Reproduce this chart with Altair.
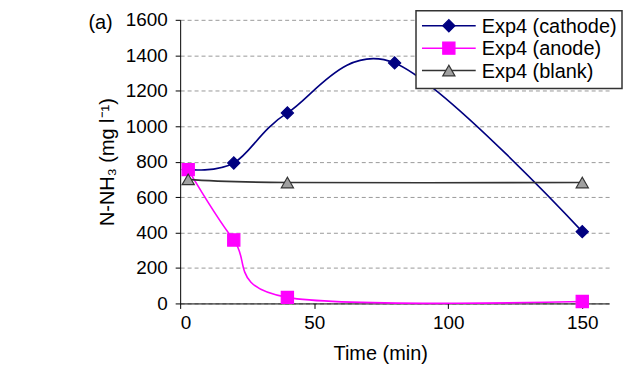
import altair as alt
import pandas as pd

# ---- data ----
series = ["Exp4 (cathode)", "Exp4 (anode)", "Exp4 (blank)"]
cathode_time = [3, 20, 40, 80, 150]
cathode_val = [755, 792, 1075, 1357, 405]
anode_time = [3, 20, 40, 150]
anode_val = [755, 358, 34, 11]
blank_time = [3, 40, 150]
blank_val = [700, 682, 682]

x_ticks = [0, 50, 100, 150]
y_ticks = [0, 200, 400, 600, 800, 1000, 1200, 1400, 1600]

# ---- styles ----
line_colors = ["#000080", "#FF00FF", "#333333"]
fill_colors = ["#000080", "#FF00FF", "#A0A0A0"]
shapes = ["diamond", "square", "triangle-up"]
FONT = "Liberation Sans"

rows = []
for name, ts, vs in zip(series, [cathode_time, anode_time, blank_time],
                        [cathode_val, anode_val, blank_val]):
    for t, v in zip(ts, vs):
        rows.append({"series": name, "time": t, "value": v})
df = pd.DataFrame(rows)

W, H = 431, 285

x_enc = alt.X("time:Q",
              scale=alt.Scale(domain=[0, 160], nice=False),
              axis=alt.Axis(values=x_ticks, tickCount=4, title="Time (min)", grid=False,
                            format="d", tickSize=5, labelPadding=5, labelOverlap=False,
                            titleX=201, titleY=56, titleBaseline="alphabetic"))
y_enc = alt.Y("value:Q",
              scale=alt.Scale(domain=[0, 1600], nice=False),
              axis=alt.Axis(values=y_ticks, tickCount=9, title="N-NH₃ (mg l⁻¹)", grid=True,
                            format="d", gridDash=[4, 3], gridColor="#999999", gridWidth=1,
                            tickSize=5, labelPadding=8, labelOverlap=False,
                            titleX=-67, titleY=H / 2, titleAlign="center",
                            titleBaseline="alphabetic"))

stroke_scale = alt.Scale(domain=series, range=line_colors)

lines = alt.Chart(df).mark_line(interpolate="cardinal", strokeWidth=1.6).encode(
    x=x_enc, y=y_enc,
    stroke=alt.Stroke("series:N", scale=stroke_scale, legend=None),
)

points = alt.Chart(df).mark_point(size=150, opacity=1, strokeWidth=1.2).encode(
    x=x_enc, y=y_enc,
    stroke=alt.Stroke("series:N", scale=stroke_scale, legend=None),
    fill=alt.Fill("series:N", scale=alt.Scale(domain=series, range=fill_colors), legend=None),
    shape=alt.Shape("series:N", scale=alt.Scale(domain=series, range=shapes), legend=None),
)

# ---- legend box drawn by hand (top right, overlapping the plot) ----
one = pd.DataFrame({"k": [0]})
legend_box = alt.Chart(one).mark_rect(fill="white", stroke="#333333", strokeWidth=1.5).encode(
    x=alt.value(237), x2=alt.value(444), y=alt.value(-9), y2=alt.value(69))

legend_layers = [legend_box]
for i, name in enumerate(series):
    ry = 6 + i * 22.5
    d = pd.DataFrame({"series": [name]})
    legend_layers.append(
        alt.Chart(d).mark_rule(color=line_colors[i], strokeWidth=1.6).encode(
            x=alt.value(243), x2=alt.value(297), y=alt.value(ry)))
    legend_layers.append(
        alt.Chart(d).mark_point(shape=shapes[i], fill=fill_colors[i], stroke=line_colors[i],
                                filled=True, size=150, opacity=1, strokeWidth=1.2).encode(
            x=alt.value(270), y=alt.value(ry)))
    legend_layers.append(
        alt.Chart(d).mark_text(align="left", baseline="middle", fontSize=20, font=FONT,
                               color="#000000").encode(
            x=alt.value(303), y=alt.value(ry + 1), text="series:N"))

panel_label = alt.Chart(one).mark_text(text="(a)", fontSize=20, font=FONT, color="#000000",
                                       align="center", baseline="middle").encode(
    x=alt.value(-80), y=alt.value(3))

chart = alt.layer(lines, points, *legend_layers, panel_label).properties(
    width=W, height=H,
    autosize=alt.AutoSizeParams(type="none"),
    padding={"left": 173, "top": 11, "right": 14, "bottom": 63},
).configure_view(stroke=None).configure_axis(
    domainColor="#000000", domainWidth=1, tickColor="#000000", tickWidth=1,
    labelColor="#000000", titleColor="#000000",
    labelFont=FONT, titleFont=FONT, labelFontSize=19, titleFontSize=20,
    titleFontWeight="normal",
)

chart.save("out.html", embed_options={"renderer": "svg", "actions": False})
